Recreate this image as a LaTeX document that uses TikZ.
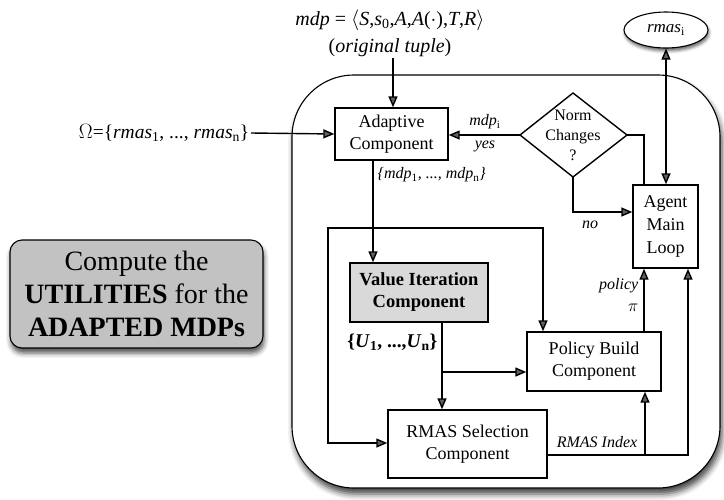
\documentclass[tikz,border=0pt]{standalone}
\usepackage{fontspec}
\setmainfont{Liberation Serif}
\usetikzlibrary{arrows.meta,shadows.blur,shapes.geometric}
\newcommand\subup[1]{\textsubscript{\upshape #1}}
\begin{document}
\begin{tikzpicture}[x=1pt,y=-1pt,
  >={Triangle[length=11pt,width=9pt]},
  line width=1.4pt,
  comp/.style={draw, fill=white, align=center, inner sep=0pt,
    font=\fontsize{18}{22}\selectfont},
  lbl/.style={font=\fontsize{16}{19}\selectfont\itshape, inner sep=1pt},
  txt/.style={font=\fontsize{20}{27}\selectfont, align=center, inner sep=1pt},
  wire/.style={line width=1.4pt},
  flow/.style={wire, ->}]
\useasboundingbox (0,0) rectangle (724,499);

% outer frame of the agent
\draw[line width=1.1pt, fill=white, rounded corners=62pt,
  blur shadow={shadow xshift=2pt, shadow yshift=-6pt, shadow blur radius=6pt, shadow opacity=75}]
  (292,75) rectangle (720,488);

% explanatory note on the left
\node[draw, fill=black!24, rounded corners=12pt, line width=1.1pt,
  minimum width=253pt, minimum height=108pt, align=center, inner sep=0pt,
  font=\fontsize{28}{33}\selectfont,
  blur shadow={shadow xshift=1pt, shadow yshift=-5pt, shadow blur radius=5pt, shadow opacity=70}]
  (note) at (136.5,294) {Compute the\\\textbf{UTILITIES} for the\\\textbf{ADAPTED MDPs}};

% inputs
\node[txt] (tuple) at (390,33)
  {\textit{mdp} = $\langle$\textit{S},\textit{s}\subup{0},\textit{A},\textit{A}($\cdot$),\textit{T},\textit{R}$\rangle$\\(\textit{original tuple})};
\node[txt, anchor=east, font=\fontsize{19.5}{24}\selectfont] (omega) at (251,133)
  {$\Omega$=\{\textit{rmas}\subup{1}, ..., \textit{rmas}\subup{n}\}};
\node[draw, ellipse, fill=white, minimum width=84pt, minimum height=36pt, inner sep=0pt, line width=1.1pt,
  font=\fontsize{17}{20}\selectfont\itshape,
  blur shadow={shadow xshift=1pt, shadow yshift=-3pt, shadow blur radius=3pt, shadow opacity=60}]
  (rmas) at (666,30) {rmas\subup{i}};

% components
\node[comp, minimum width=113pt, minimum height=52pt] (adapt) at (391.5,134) {Adaptive\\Component};
\node[comp, fill=black!15, minimum width=138pt, minimum height=59pt, font=\fontsize{18.5}{22}\selectfont\bfseries]
  (vi) at (419,292.5) {Value Iteration\\Component};
\node[comp, minimum width=134pt, minimum height=59pt] (policy) at (594,361.5) {Policy Build\\Component};
\node[comp, minimum width=159pt, minimum height=68pt] (select) at (467.5,444) {RMAS Selection\\Component};
\node[comp, minimum width=65pt, minimum height=83pt, font=\fontsize{18}{23}\selectfont] (agent) at (665.5,226.5) {Agent\\Main\\Loop};

% decision: norm changes
\coordinate (dl) at (520,135);
\coordinate (dt) at (573,93);
\coordinate (dr) at (627,135);
\coordinate (db) at (573,177);
\draw[fill=white] (dl) -- (dt) -- (dr) -- (db) -- cycle;
\node[align=center, inner sep=0pt, font=\fontsize{16}{20}\selectfont] (norm) at (573,135) {Norm\\Changes\\?};

% connectors
\draw[flow] (tuple.south -| 393,0) -- (adapt.north -| 393,0);
\draw[flow] (omega.east) -- (adapt.west);
\draw[flow] (dl) -- (adapt.east |- dl);
\node[lbl] (lmdpi) at (485,122) {mdp\subup{i}};
\node[lbl] (lyes) at (485,146) {yes};
\draw[wire] (dr) -| (agent.north -| 644,0);
\draw[<->, wire] (rmas.south -| 666,0) -- (agent.north -| 666,0);
\draw[flow] (db) |- (agent.west |- 0,212);
\node[lbl] (lno) at (590,225) {no};

% adapted mdps fan out
\coordinate (split) at (373,228);
\draw[flow] (adapt.south -| split) -- (vi.north -| split);
\node[lbl, anchor=west] (lmdps) at (376,175) {\{mdp\subup{1}, ..., mdp\subup{n}\}};
\draw[flow] (split) -| (328,443) -- (select.west |- 0,443);
\draw[flow] (split) -| (policy.north -| 543,0);

% utilities
\coordinate (ujoin) at (442,372);
\draw[flow] (vi.south -| ujoin) -- (select.north -| ujoin);
\draw[flow] (ujoin) -- (policy.west |- ujoin);
\node[anchor=east, inner sep=1pt, font=\fontsize{19.5}{22}\selectfont\bfseries] (lutil) at (439,342)
  {\{\textit{U}\subup{1}, ...,\textit{U}\subup{n}\}};

% policy and index back to the main loop
\draw[flow] (policy.north -| 644,0) -- (agent.south -| 644,0);
\node[lbl, anchor=east] (lpolicy) at (640,286) {policy};
\node[lbl, anchor=east] (lpi) at (640,308) {$\pi$};
\coordinate (ibranch) at (645,455);
\draw[flow] (select.east |- ibranch) -| (agent.south -| 688,0);
\draw[flow] (ibranch) -- (policy.south -| ibranch);
\node[lbl] (lindex) at (597,442) {RMAS Index};
\end{tikzpicture}
\end{document}
